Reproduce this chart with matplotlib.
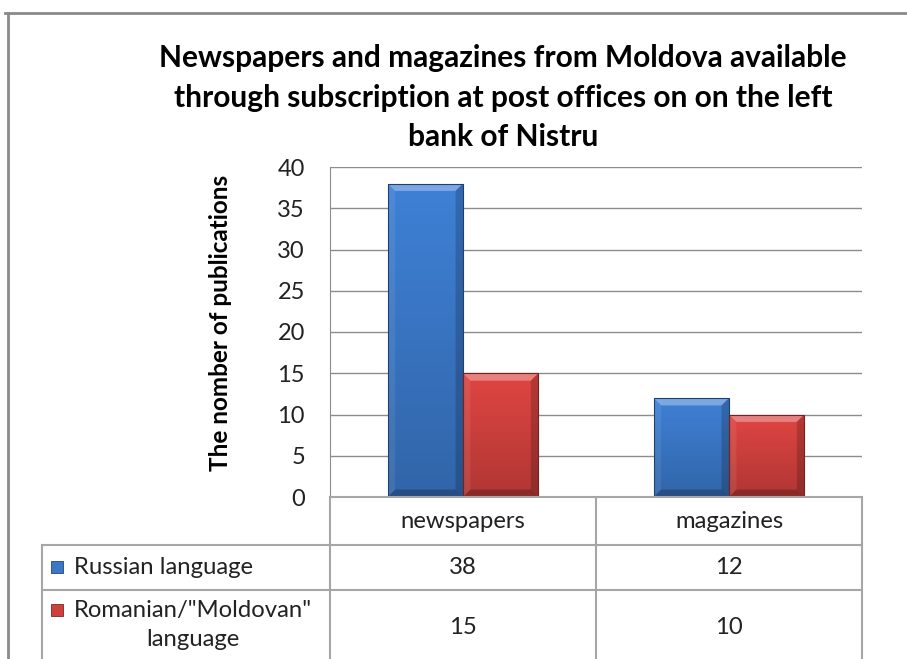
import numpy as np
import matplotlib.pyplot as plt
from matplotlib.lines import Line2D
from matplotlib.patches import Polygon, Rectangle
import matplotlib.colors as mcolors

plt.rcParams['font.family'] = ['Lato', 'DejaVu Sans']

# dados do gráfico
categorias = ['newspapers', 'magazines']
series = ['Russian language', 'Romanian/"Moldovan"\nlanguage']
russo = [38, 12]
romeno = [15, 10]
cores = ['#3a77c6', '#cf403d']

titulo = ('Newspapers and magazines from Moldova available\n'
          'through subscription at post offices on on the left\n'
          'bank of Nistru')

TXT = 17.2
COR_TXT = '#222222'


def degrade(ax, barra, cor):
    # preenchimento com degradê vertical, recortado no retângulo da barra
    x0, y0 = barra.get_x(), barra.get_y()
    w, h = barra.get_width(), barra.get_height()
    base = np.array(mcolors.to_rgb(cor))
    t = np.linspace(0, 1, 64)[:, None]
    claro = np.clip(base * 1.08, 0, 1)
    escuro = base * 0.85
    img = (escuro * (1 - t) + claro * t)[:, None, :]
    im = ax.imshow(img, extent=[x0, x0 + w, y0, y0 + h], origin='lower',
                   aspect='auto', zorder=3, interpolation='bilinear')
    im.set_clip_path(barra)

    # chanfro nas bordas
    bx = 0.028
    by = 0.9
    topo = [(x0, y0 + h), (x0 + w, y0 + h), (x0 + w - bx, y0 + h - by), (x0 + bx, y0 + h - by)]
    base_p = [(x0, y0), (x0 + w, y0), (x0 + w - bx, y0 + by), (x0 + bx, y0 + by)]
    esq = [(x0, y0), (x0, y0 + h), (x0 + bx, y0 + h - by), (x0 + bx, y0 + by)]
    dir_ = [(x0 + w, y0), (x0 + w, y0 + h), (x0 + w - bx, y0 + h - by), (x0 + w - bx, y0 + by)]
    for pts, c, a in [(topo, 'white', 0.32), (esq, 'white', 0.08),
                      (dir_, 'black', 0.18), (base_p, 'black', 0.22)]:
        ax.add_patch(Polygon(pts, closed=True, facecolor=c, alpha=a,
                             edgecolor='none', zorder=4))
    ax.add_patch(Rectangle((x0, y0), w, h, fill=False,
                           edgecolor=base * 0.55, lw=0.8, zorder=5))


fig = plt.figure(figsize=(9.07, 6.59), dpi=100)
ax = fig.add_axes([330 / 907, 1 - 497 / 659, 532 / 907, 330 / 659])

x = np.arange(len(categorias))
largura = 0.283
b1 = ax.bar(x - largura / 2, russo, largura, color='none', zorder=3)
b2 = ax.bar(x + largura / 2, romeno, largura, color='none', zorder=3)
for barra in b1:
    degrade(ax, barra, cores[0])
for barra in b2:
    degrade(ax, barra, cores[1])

ax.set_xlim(-0.5, 1.5)
ax.set_ylim(0, 40)
ax.set_yticks(range(0, 41, 5))
ax.set_xticks([])
ax.yaxis.grid(True, color='#8c8c8c', lw=1.0)
ax.set_axisbelow(True)
for lado in ['top', 'right', 'bottom']:
    ax.spines[lado].set_visible(False)
ax.spines['left'].set_color('#8c8c8c')
ax.tick_params(axis='y', length=0, labelsize=17, pad=18, labelcolor=COR_TXT)
ax.set_ylabel('The nomber of publications', fontsize=17.5, fontweight='bold')
ax.yaxis.set_label_coords((232 - 330) / 532, 0.527)

fig.text(503 / 907, 1 - 98 / 659, titulo, ha='center', va='center',
         fontsize=21.5, fontweight='bold', linespacing=1.5)

# tabela de dados embaixo do gráfico
cinza = '#a6a6a6'
trans = ax.transAxes


def py(p):
    # pixel vertical da figura -> coordenada do eixo
    return (497 - p) / 330


def px(p):
    return (p - 330) / 532


x_esq = px(42)
ax.add_line(Line2D([0, 1], [0, 0], transform=trans, color=cinza, lw=1.5,
                   clip_on=False, zorder=6))
for y in [py(545), py(590)]:
    ax.add_line(Line2D([x_esq, 1], [y, y], transform=trans, color=cinza, lw=1.5,
                       clip_on=False, zorder=6))
for xv in [0, 0.5, 1]:
    ax.add_line(Line2D([xv, xv], [0, -1], transform=trans, color=cinza, lw=1.5,
                       clip_on=False))
ax.add_line(Line2D([x_esq, x_esq], [py(545), -1], transform=trans,
                   color=cinza, lw=1.5, clip_on=False))

for i, cat in enumerate(categorias):
    xc = (i + 0.5) / len(categorias)
    ax.text(xc, py(522), cat, transform=trans, ha='center', va='center',
            fontsize=TXT, color=COR_TXT)
    ax.text(xc, py(568), str(russo[i]), transform=trans, ha='center',
            va='center', fontsize=TXT, color=COR_TXT)
    ax.text(xc, py(627), str(romeno[i]), transform=trans, ha='center',
            va='center', fontsize=TXT, color=COR_TXT)

# rótulos das linhas com a chave de cor
for nome, cor, yk, yt in zip(series, cores, [567, 610], [567, 625]):
    ax.add_patch(Rectangle((px(51), py(yk + 6)), 12 / 532, 12 / 330,
                           transform=trans, facecolor=cor,
                           edgecolor=np.array(mcolors.to_rgb(cor)) * 0.6,
                           lw=0.6, clip_on=False))
    ax.text(px(74), py(yt), nome, transform=trans, ha='left', va='center',
            multialignment='center', fontsize=TXT, color=COR_TXT,
            linespacing=1.45)

# moldura externa
fig.add_artist(Line2D([5 / 907, 1], [1 - 13 / 659, 1 - 13 / 659],
                      transform=fig.transFigure, color='#8a8a8a', lw=2))
fig.add_artist(Line2D([8 / 907, 8 / 907], [0, 1 - 13 / 659],
                      transform=fig.transFigure, color='#8a8a8a', lw=2))

fig.savefig('out.png', dpi=100)
